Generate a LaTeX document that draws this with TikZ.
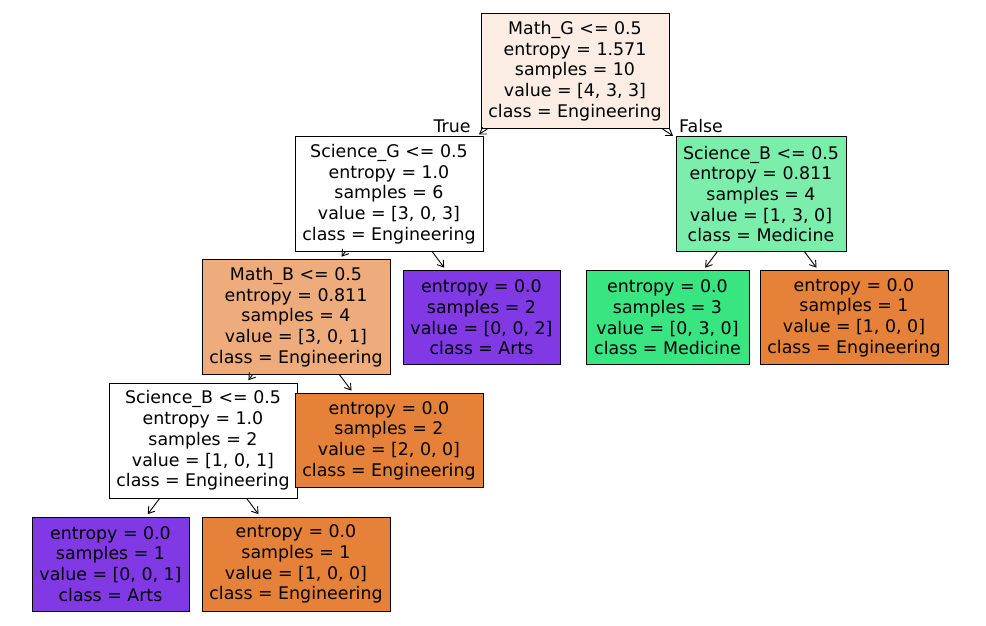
\documentclass[tikz,border=0pt]{standalone}
\usepackage{fontspec}
\setmainfont{DejaVu Sans}
\usetikzlibrary{arrows.meta}
\definecolor{engc}{HTML}{E58139}
\definecolor{medc}{HTML}{39E581}
\definecolor{artc}{HTML}{8139E5}
\definecolor{rootc}{HTML}{FBEDE3}
\definecolor{mathbc}{HTML}{EEAB7B}
\definecolor{scibc}{HTML}{7BEEAB}
\tikzset{
  treebox/.style={draw=black, line width=0.9pt, align=center, inner sep=0pt,
    font=\fontsize{17.4}{20.7}\selectfont},
  fivebox/.style={treebox, minimum height=115pt},
  fourbox/.style={treebox, minimum height=94pt},
  edge/.style={draw=black, line width=0.9pt, -{Straight Barb[length=6pt,width=8pt,line width=0.9pt]}, shorten >=3pt},
  edgelbl/.style={font=\fontsize{17.4}{20}\selectfont, inner sep=0pt}
}
\begin{document}
\begin{tikzpicture}[x=1pt,y=-1pt]
\useasboundingbox (0,0) rectangle (986,626);
\node[fivebox, fill=rootc, minimum width=188pt] (root) at (575,71)
  {Math\_G <= 0.5\\entropy = 1.571\\samples = 10\\value = [4, 3, 3]\\class = Engineering};
\node[fivebox, fill=white, minimum width=188pt] (scig) at (389,194)
  {Science\_G <= 0.5\\entropy = 1.0\\samples = 6\\value = [3, 0, 3]\\class = Engineering};
\node[fivebox, fill=scibc, minimum width=170pt] (scibr) at (761,194)
  {Science\_B <= 0.5\\entropy = 0.811\\samples = 4\\value = [1, 3, 0]\\class = Medicine};
\node[fivebox, fill=mathbc, minimum width=188pt] (mathb) at (296,317)
  {Math\_B <= 0.5\\entropy = 0.811\\samples = 4\\value = [3, 0, 1]\\class = Engineering};
\node[fourbox, fill=artc, minimum width=157pt] (arts1) at (481.5,317.5)
  {entropy = 0.0\\samples = 2\\value = [0, 0, 2]\\class = Arts};
\node[fourbox, fill=medc, minimum width=163pt] (med) at (667.5,317.5)
  {entropy = 0.0\\samples = 3\\value = [0, 3, 0]\\class = Medicine};
\node[fourbox, fill=engc, minimum width=188pt] (eng1) at (854,317.5)
  {entropy = 0.0\\samples = 1\\value = [1, 0, 0]\\class = Engineering};
\node[fivebox, fill=white, minimum width=188pt] (scibl) at (203,440.5)
  {Science\_B <= 0.5\\entropy = 1.0\\samples = 2\\value = [1, 0, 1]\\class = Engineering};
\node[fourbox, fill=engc, minimum width=188pt] (eng2) at (389,440.5)
  {entropy = 0.0\\samples = 2\\value = [2, 0, 0]\\class = Engineering};
\node[fourbox, fill=artc, minimum width=157pt] (arts2) at (110.5,564)
  {entropy = 0.0\\samples = 1\\value = [0, 0, 1]\\class = Arts};
\node[fourbox, fill=engc, minimum width=188pt] (eng3) at (296,564)
  {entropy = 0.0\\samples = 1\\value = [1, 0, 0]\\class = Engineering};
\draw[edge] (root) -- (scig);
\draw[edge] (root) -- (scibr);
\draw[edge] (scig) -- (mathb);
\draw[edge] (scig) -- (arts1);
\draw[edge] (scibr) -- (med);
\draw[edge] (scibr) -- (eng1);
\draw[edge] (mathb) -- (scibl);
\draw[edge] (mathb) -- (eng2);
\draw[edge] (scibl) -- (arts2);
\draw[edge] (scibl) -- (eng3);
\node[edgelbl] (truelbl) at (452,126) {True};
\node[edgelbl] (falselbl) at (701,126) {False};
\end{tikzpicture}
\end{document}
